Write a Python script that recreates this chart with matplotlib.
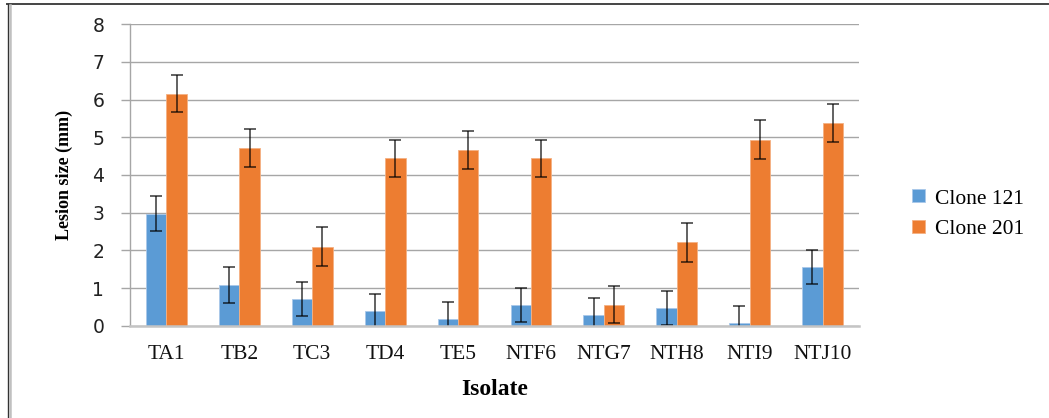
import numpy as np
import matplotlib
matplotlib.use("Agg")
import matplotlib.pyplot as plt
from matplotlib.lines import Line2D

# Lesion size per isolate for the two clones (mean +/- error)
isolates = ["TA1", "TB2", "TC3", "TD4", "TE5", "NTF6", "NTG7", "NTH8", "NTI9", "NTJ10"]
clone_121 = [2.97, 1.08, 0.72, 0.39, 0.17, 0.54, 0.28, 0.46, 0.07, 1.55]
clone_121_err = [0.46, 0.47, 0.45, 0.46, 0.45, 0.45, 0.45, 0.45, 0.46, 0.45]
clone_201 = [6.16, 4.72, 2.10, 4.44, 4.67, 4.44, 0.56, 2.21, 4.94, 5.38]
clone_201_err = [0.50, 0.50, 0.52, 0.50, 0.50, 0.50, 0.50, 0.51, 0.51, 0.50]
series_names = ["Clone 121", "Clone 201"]

blue = "#5B9BD5"
orange = "#ED7D31"
serif = "Liberation Serif"

fig = plt.figure(figsize=(10.49, 4.18), dpi=100)
ax = fig.add_axes([0.1239, 0.2208, 0.695, 0.7211])

x = np.arange(len(isolates))
w = 0.28
err_kw = dict(ecolor=(0, 0, 0, 0.72), elinewidth=1.2, capsize=4.5, capthick=1.2)

ax.bar(x - w / 2, clone_121, w, color=blue, edgecolor="#A9C8EA", linewidth=0.6,
       yerr=clone_121_err, error_kw=err_kw, label=series_names[0], zorder=2)
ax.bar(x + w / 2, clone_201, w, color=orange, edgecolor="#F4B183", linewidth=0.6,
       yerr=clone_201_err, error_kw=err_kw, label=series_names[1], zorder=2)

ax.set_xlim(-0.5, len(isolates) - 0.5)
ax.set_ylim(0, 8)
ax.set_yticks(range(0, 9))
ax.yaxis.grid(True, color="#A6A6A6", linewidth=1.0, zorder=0)
ax.set_axisbelow(True)

for side in ("top", "right"):
    ax.spines[side].set_visible(False)
ax.spines["left"].set_color("#A6A6A6")
ax.spines["left"].set_linewidth(1.0)
ax.spines["bottom"].set_color("#C4C4C4")
ax.spines["bottom"].set_linewidth(1.8)

ax.tick_params(axis="y", length=6.5, width=1.0, color="#A6A6A6", pad=12,
               labelsize=13.5, labelcolor="#222222")
ax.tick_params(axis="x", length=0, pad=14)
ax.set_xticks(x)
ax.set_xticklabels(isolates, fontfamily=serif, fontsize=15.5, color="#111111")

ax.set_ylabel("Lesion size (mm)", fontfamily=serif, fontweight="bold", fontsize=13,
              labelpad=14)
ax.set_xlabel("Isolate", fontfamily=serif, fontweight="bold", fontsize=17, labelpad=11)

fig.legend(loc="center left", bbox_to_anchor=(0.851, 0.487), frameon=False,
           prop={"family": serif, "size": 15.5}, handlelength=0.6, handleheight=0.55,
           handletextpad=0.45, labelspacing=0.55)

# frame lines along the top and left edges of the canvas
fig.add_artist(Line2D([7 / 1049, 1048 / 1049], [1 - 4 / 418] * 2, color="#444444",
                      linewidth=1.4, transform=fig.transFigure))
fig.add_artist(Line2D([7.8 / 1049] * 2, [0, 1 - 4 / 418], color="#333333",
                      linewidth=1.0, transform=fig.transFigure))
fig.add_artist(Line2D([9.6 / 1049] * 2, [0, 1 - 4.5 / 418], color="#C0C0C0",
                      linewidth=1.8, transform=fig.transFigure))

fig.savefig("out.png", dpi=100)
